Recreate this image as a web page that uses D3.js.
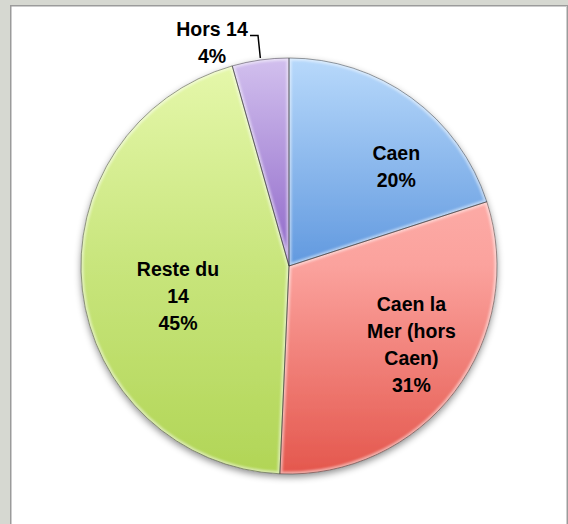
<!DOCTYPE html>
<html>
<head>
<meta charset="utf-8">
<script src="https://cdn.jsdelivr.net/npm/d3@7"></script>
<style>
  html, body { margin: 0; padding: 0; background: #d6d8d1; }
  svg { display: block; }
</style>
</head>
<body>
<div id="chart"></div>
<script>
// data
var categories = ["Caen", "Caen la Mer (hors Caen)", "Reste du 14", "Hors 14"];
var labelLines = [["Caen"], ["Caen la", "Mer (hors", "Caen)"], ["Reste du", "14"], ["Hors 14"]];
var shares = [20.0, 30.7, 44.9, 4.4];
var percentLabels = ["20%", "31%", "45%", "4%"];

// colours: top / middle / bottom of a vertical gradient
var colorTop = ["#b8d9fb", "#ffbdb9", "#e6f8ac", "#d2c0ee"];
var colorMid = ["#62999e0", "#fba29d", "#c8e57c", "#8e66c8"];
colorMid[0] = "#6199df";
var colorBot = ["#3f78c8", "#e4574d", "#b1d556", "#7a52b6"];

var width = 568, height = 524;
var cx = 289, cy = 266, radius = 208;
// label nudges from the label-arc centroid (inside labels)
var nudges = [[22, 18], [7, -9], [33, 13], [0, 0]];
var lineH = 27;

var svg = d3.select("#chart").append("svg")
    .attr("width", width)
    .attr("height", height);

// frame
svg.append("rect")
    .attr("x", 10).attr("y", 5)
    .attr("width", width - 10).attr("height", height - 5)
    .attr("fill", "#9b9b9b");
svg.append("rect")
    .attr("x", 11.5).attr("y", 6.5)
    .attr("width", width - 12.5).attr("height", height - 6.5)
    .attr("fill", "#ffffff");
svg.append("line")
    .attr("x1", 566.5).attr("x2", 566.5)
    .attr("y1", 6).attr("y2", height)
    .attr("stroke", "#cfcfcf");

var defs = svg.append("defs");

var shadow = defs.append("filter").attr("id", "shadow")
    .attr("x", "-20%").attr("y", "-20%").attr("width", "140%").attr("height", "140%");
shadow.append("feDropShadow")
    .attr("dx", 0).attr("dy", 3)
    .attr("stdDeviation", 3.5)
    .attr("flood-color", "#000")
    .attr("flood-opacity", 0.45);

var soft = defs.append("filter").attr("id", "soft");
soft.append("feGaussianBlur").attr("stdDeviation", 1.2);

categories.forEach(function(c, i) {
    var g = defs.append("linearGradient")
        .attr("id", "grad" + i)
        .attr("gradientUnits", "userSpaceOnUse")
        .attr("x1", 0).attr("x2", 0)
        .attr("y1", -radius).attr("y2", radius);
    g.append("stop").attr("offset", 0).attr("stop-color", colorTop[i]);
    g.append("stop").attr("offset", 0.5).attr("stop-color", colorMid[i]);
    g.append("stop").attr("offset", 1).attr("stop-color", colorBot[i]);
});

var pie = d3.pie().sort(null).value(function(d) { return d; });
var arcs = pie(shares);

var arc = d3.arc().innerRadius(0).outerRadius(radius);
var labelArc = d3.arc().innerRadius(145).outerRadius(145);

var chart = svg.append("g").attr("transform", "translate(" + cx + "," + cy + ")");

// shadowed base
chart.append("g").attr("filter", "url(#shadow)")
  .selectAll("path")
  .data(arcs)
  .enter().append("path")
    .attr("d", arc)
    .attr("fill", function(d, i) { return "url(#grad" + i + ")"; });

// bevel highlight inside each slice
arcs.forEach(function(d, i) {
    defs.append("clipPath").attr("id", "clip" + i)
      .append("path").attr("d", arc(d));
});
chart.append("g")
  .selectAll("g")
  .data(arcs)
  .enter().append("g")
    .attr("clip-path", function(d, i) { return "url(#clip" + i + ")"; })
  .append("path")
    .attr("d", arc)
    .attr("fill", "none")
    .attr("stroke", "#ffffff")
    .attr("stroke-opacity", 0.5)
    .attr("stroke-width", 5)
    .attr("filter", "url(#soft)");

// edges
chart.append("g")
  .selectAll("path")
  .data(arcs)
  .enter().append("path")
    .attr("d", arc)
    .attr("fill", "none")
    .attr("stroke", "rgba(40,40,40,0.5)")
    .attr("stroke-width", 0.9);

// labels
var font = "'Liberation Sans Narrow', 'Arial Narrow', 'Liberation Sans', Arial, sans-serif";

arcs.forEach(function(d, i) {
    var lines = labelLines[i].concat([percentLabels[i]]);
    var x, y;
    if (i === 3) {
        // outside label with leader line
        x = 212 - cx;
        y = 42 - cy;
        var mid = (d.startAngle + d.endAngle) / 2;
        var px = radius * Math.sin(mid), py = -radius * Math.cos(mid);
        chart.append("polyline")
            .attr("points", [[250 - cx, 35.5 - cy], [258 - cx, 35.5 - cy], [px, py - 2]].join(" "))
            .attr("fill", "none")
            .attr("stroke", "#000")
            .attr("stroke-width", 1.5);
    } else {
        var c = labelArc.centroid(d);
        x = c[0] + nudges[i][0];
        y = c[1] + nudges[i][1];
    }
    var t = chart.append("text")
        .attr("x", x)
        .attr("y", y)
        .attr("text-anchor", "middle")
        .attr("font-family", font)
        .attr("font-weight", "bold")
        .attr("font-size", 19.5)
        .attr("fill", "#000");
    var first = -(lines.length - 1) / 2 * lineH;
    lines.forEach(function(s, k) {
        t.append("tspan")
            .attr("x", x)
            .attr("dy", k === 0 ? first + 7 : lineH)
            .text(s);
    });
});
</script>
</body>
</html>
